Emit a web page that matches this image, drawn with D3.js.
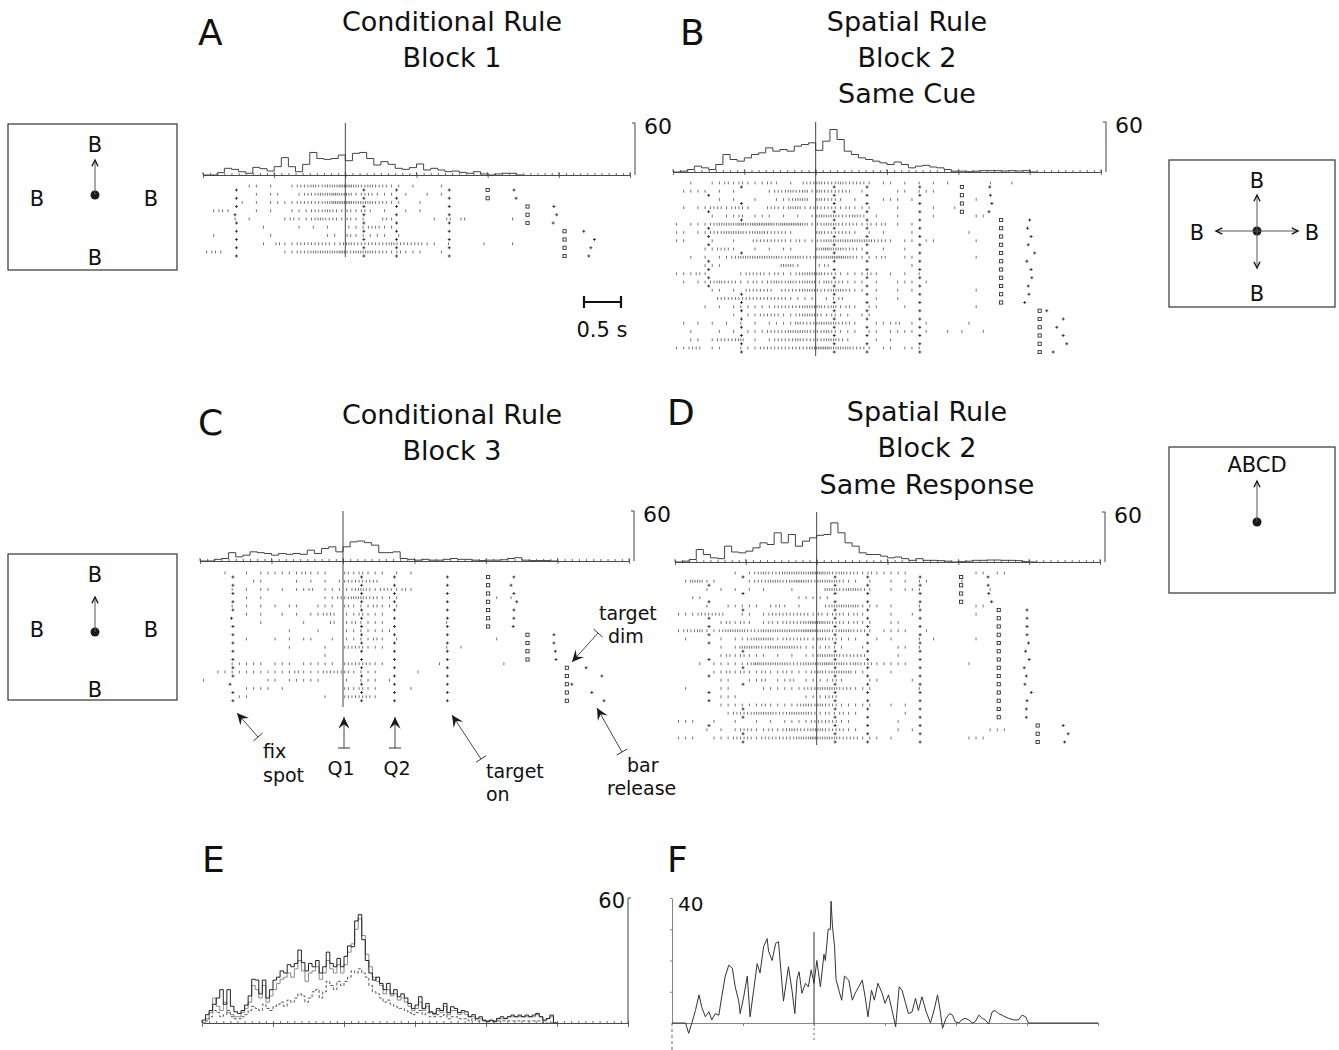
<!DOCTYPE html>
<meta charset="utf-8">
<style>
body{margin:0;background:#fff}
text{font-family:"DejaVu Sans","Liberation Sans",Arial,sans-serif;fill:#111}
</style>
<svg width="1339" height="1050"></svg>
<script src="https://cdn.jsdelivr.net/npm/d3@7"></script>
<script>
/*global d3*/
// time axis of every panel: -2 s .. +4 s around the first cue (Q1)
var T0 = -2, T1 = 4;

// peri-event histograms, spikes/s in 0.1 s bins starting at -2 s
var histA = [0,0,2.7,7.7,6.5,3.8,2,8.8,7.3,4.6, 9.6,20,9.6,3.8,12.3,26,19,18,19,23,
  16.5,25,26,19,11.5,15.4,12.3,7.7,6.5,8.5, 12.7,5.8,7.7,5.8,3.8,4.6,3,2,3.8,1.2, 0,1.2,2,2,0];
var histB = [0,1,3,7,5,3,9,21,15,13, 17,21,23,29,25,27,25,31,33,35,
  26,37,51,39,25,21,17,15,13,11, 9,12,9,5,7,8,6,5,3,1, 1,0.4,1,1.6,1.6,1.6,1.2,1.6,1.2,1.6, 0];
var histC = [0,0,2,3,10,5,7,11,10,9, 7,9,8,9,8,13,9,15,17,11,
  17,23,24,22,19,10,10,11,3,2, 1,2,1,1,2,3,2,2,1,0.5, 1,1,1.5,3,4,1,0.5,0.5,0.5,0];
var histD = [0,1,3,15,9,5,4,19,12,11, 13,17,23,21,35,23,33,19,25,29,
  32,33,47,35,23,19,11,9,9,7, 5,6,4,2,4,2,2,1.6,1,0, 0.4,1,2,2,2.4,2.4,2,2,1.6,0.4, 0];

// rasters: one string per trial, spike count per 0.1 s bin from -2 s
var rasterA = [
"0000001101 0012232334 4323221101 0001000000",
"0000000101 1001223343 3122111010 0101000000",
"0000010101 1112222344 4333221100 1000000000",
"0121000101 0011122321 2121010010 1000000000",
"0000101000 0121123221 2110021000 0010202000 0001",
"0000000010 0001010100 1112211000 0000000000",
"0100000001 0000000110 2111110100 0000000000",
"0000000010 2112222212 3222223222 2110100001 0001",
"1210000000 0112233334 2333221211 1001000000"
];
var rasterB = [
"0010011212 1112101022 3223222101 1010101010 00001001",
"0111101010 0001223231 3222201000 0110111000",
"0000001010 0100112330 3221010001 1101000000 001",
"0101122122 1002213312 2221211100 0100001001",
"0000010112 0111010101 3332232010 0100001000 0011",
"1011123334 3444344431 2332221212 0101000000",
"1101122333 2332221000 3222210101 0001000000 01",
"1100010010 0222221211 2333333322 1011011000 001",
"0000112210 0101011000 3433221001 0010000000",
"0010101123 3333323322 3344321112 0011000000 001",
"0000111000 0000033100 1200000000 0001000000",
"1112100001 2221211233 3221111210 1010100000",
"0101123221 1212323233 1322111010 0111010000",
"0000011010 2222022233 2233211010 0101000000 0010",
"0000002222 2222221111 0112000010 0100000000",
"0000101011 1111222233 3231210110 0010000000 0010",
"0000000010 1122211233 2121101100 0000000000",
"0101010101 0101111322 3332210011 1201010000 01",
"0010001010 1112223332 2321110110 1111010010 1001",
"0011012223 0101222322 2332100010 1000000000",
"1122011001 1122222223 4433322101 1011100000"
];
var rasterC = [
"0001001011 1111211100 2121110101 0000000000",
"0000000110 0001010101 2222200000 0000000000",
"0000101011 0101120111 1232122121 0000000000",
"0000001010 0000000112 2332211100 0000000000 0101",
"0000101010 1011001110 2111211100 0000000000",
"0000001010 0101011220 1121110000 0000000000",
"0000000010 0000100020 1211110000 0000100000",
"0000000000 0010001000 1111111000 0000000000",
"0000001000 1010110010 1111210100 0000000000 01",
"0000000000 0010000100 2221110000 0000101000",
"0000000000 0000000100 0000000000 0000000000",
"0000111110 1110111110 2222110000 0001000000 001",
"0011111111 1112111222 2111100000 1000000000",
"1000000001 1011111000 1011101000 0000000000",
"0000001111 0100000000 2121100001 0000000000",
"0000011000 0000000100 2222100000 0000000000"
];
var rasterD = [
"0000000010 1232233334 4323221211 1110000000 0011011",
"0133110000 1223323432 3332110100 1010110000 1",
"0000101010 1010001000 0332332100 1011100000 00001",
"0011000000 0000000111 1100000000 0000000000",
"0000100111 1101210100 0233331110 1000100000 0011",
"1112222001 1012222221 2122121000 1001000000 001",
"0000001212 1012122234 4322121100 1100000000",
"1223112333 2233333344 3323322101 1110010000",
"0100001011 2333122221 3221110010 1000101000 001",
"0000001013 3323333211 1211001000 0110100000",
"0000001212 1110101011 3332222000 0100000000",
"0001011111 2433332233 3433232211 1110000000 01",
"0000011212 1121121112 3233311000 1000000000",
"0000001100 1120112011 1121000110 0001000000",
"0100001100 0011111122 3332211100 0000100000",
"0000001110 0000000011 1220000000 0000000000",
"0000001111 1121111232 3221111100 1010000000",
"0000000122 2333223332 1212110000 0010000000",
"1110010010 0101011112 2221100000 0100000000",
"0000101012 2112123223 3222110000 0101000000 0000111",
"1110011122 2122222334 3332221110 1000000000 0111"
];

// behavioural events per trial (s): fixation spot, target dim, bar release
var fixA = [-1.53,-1.53,-1.53,-1.55,-1.53,-1.53,-1.53,-1.53,-1.53];
var dimA = [2.0,2.0,2.56,2.56,2.56,3.08,3.08,3.08,3.08];
var relA = [2.37,2.4,2.93,2.97,2.92,3.35,3.5,3.45,3.42];
var fixB = [-1.04,-1.5,-1.04,-1.5,-1.04,-1.5,-1.5,-1.5,-1.04,-1.5,-1.5,-1.5,-1.5,-1.04,-1.04,-1.04,-1.04,-1.04,-1.04,-1.04,-1.04];
var dimB = [2.05,2.05,2.05,2.05, 2.6,2.6,2.6,2.6,2.6,2.6,2.6,2.6,2.6,2.6,2.6, 3.14,3.14,3.14,3.14,3.14,3.14];
var relB = [2.44,2.45,2.47,2.43, 3.0,2.97,3.02,2.98,3.07,2.96,3.02,3.03,2.98,2.99,2.93, 3.24,3.47,3.38,3.47,3.52,3.33];
var fixC = [-1.54,-1.54,-1.54,-1.54,-1.54,-1.56,-1.54,-1.54,-1.54,-1.54,-1.54,-1.54,-1.54,-1.58,-1.54,-1.54];
var dimC = [2.03,2.03,2.03,2.03,2.03,2.03,2.03, 2.58,2.58,2.58,2.58, 3.13,3.13,3.13,3.13,3.13];
var relC = [2.39,2.35,2.39,2.43,2.39,2.39,2.38, 2.95,2.95,2.97,2.98, 3.4,3.62,3.2,3.48,3.65];
var fixD = [-1.04,-1.52,-1.04,-1.52,-1.04,-1.52,-1.52,-1.52,-1.52,-1.04,-1.52,-1.04,-1.52,-1.04,-1.52,-1.52,-1.04,-1.04,-1.52,-1.04,-1.04];
var dimD = [2.04,2.04,2.04,2.04, 2.57,2.57,2.57,2.57,2.57,2.57,2.57,2.57,2.57,2.57,2.57,2.57,2.57,2.57, 3.12,3.12,3.12];
var relD = [2.42,2.42,2.43,2.47, 2.97,2.97,2.97,2.97,2.99,2.95,3.0,2.93,2.96,2.94,3.03,2.97,2.96,2.96, 3.48,3.55,3.5];
// fixed task events: Q1, Q2, target on
var cueTimes = [0.26, 0.72, 1.46];

// panel E: population histograms, 0.05 s bins from -2 s
var popSolid = [1.4,4,6,9,12,16,9,16,8,5.4, 4.6,6,8.6,13,21,20.6,14,20.6,12,16,
  20.6,22,25,24,28,27,28.6,35,29,25, 28.6,27,30,24,27,34,28.6,27,31,27,
  32,37,36.6,49,52,40,30,24,20.6,22, 19,16,19,14,16,12.6,14,12,9.4,7,
  8.6,12.6,7,9.4,5.4,4.6,7,6,9.4,5, 7.8,7,5,6,5.4,3,4,2.2,3,1.4,
  0.6,1.4,0.6,2.2,3,2.2,3,3.8,3,3.8, 3,3.8,3,3.8,4.6,3,1.4,2.2,3.8,0];
var popGray = [0,2,5,12,8,6,10,5,4,3, 3,5,7,10,18,16,12,18,10,13,
  16,19,21,22,24,22,26,30,25,20, 24,25,27,21,24,30,26,24,28,24,
  28,34,38,45,50,42,33,27,22,20, 18,14,16,13,14,11,12,10,8,6,
  7,10,6,8,5,4,6,5,8,4, 6,6,4,5,4,3,3,2,2,1,
  1,1,1,2,2,2,3,3,3,3, 3,3,3,3,4,3,1,2,3,0];
var popDashed = [0,1,3,6,5,3,4,6,3,2, 2,3,4,6,8,7,6,9,7,6,
  8,9,10,8,11,10,12,14,13,10, 12,15,16,12,15,20,18,16,20,18,
  20,22,25,24,26,24,22,18,15,14, 12,10,11,9,8,7,7,6,5,4,
  5,6,4,5,3,3,4,3,4,2, 3,3,2,2,2,1,2,1,1,1,
  1,1,1,1,1,1,1,1,1,1, 1,1,1,1,1,1,0,0,0,0];

// panel F: difference spike-density trace
var diffTime = [-2,-1.81,-1.765,-1.72,-1.67,-1.62,-1.58,-1.53,-1.48,-1.44,-1.39,-1.34,-1.3,-1.25,-1.2,-1.15,-1.11,-1.06,-1.04,-0.99,
  -0.94,-0.9,-0.85,-0.8,-0.76,-0.71,-0.66,-0.64,-0.59,-0.54,-0.5,-0.43,-0.36,-0.31,-0.27,-0.24,-0.21,-0.17,-0.12,-0.08,
  -0.04,0,0.04,0.09,0.14,0.16,0.2,0.23,0.24,0.26,0.29,0.31,0.35,0.39,0.43,0.49,0.54,0.58,0.63,0.68,
  0.72,0.76,0.81,0.85,0.9,0.96,1.0,1.05,1.1,1.15,1.2,1.24,1.29,1.33,1.38,1.43,1.47,1.52,1.58,1.64,
  1.69,1.74,1.78,1.81,1.86,1.91,1.95,1.99,2.04,2.08,2.13,2.18,2.23,2.27,2.32,2.37,2.41,2.46,2.51,2.55,
  2.6,2.65,2.69,2.74,2.81,2.88,2.93,2.98,3.02,4];
var diffRate = [0,0,-3.3,0,4,9,5,2,3.6,1,3,2.5,8.4,15,18.5,17.5,11.6,7,3,8.4,
  15,2,10.5,19,16,24.4,27,23,20,25.5,26,7,18,10.5,3,14,16.4,9.5,12.7,11.6,
  17,12.7,20,11.6,22,20,30,30,39,31,24.4,14,10.5,7.3,15,13.7,7.3,9.5,11.6,13.7,
  8.4,2,10.5,7.3,12.7,9.5,6.3,9,4,-1.2,11.6,10.5,6.3,3,3.5,7.9,4,8.4,3.6,0,
  4,9,3.5,-1.7,1.5,3,2.5,0.4,0,1,1.5,1,0,0.4,2.5,1.5,1,-0.3,3.6,4,
  3,2.5,2,1.5,1,1,2.5,2,0,0];

var svg = d3.select("svg");
var ink = "#1a1a1a";

function txt(x, y, s, size, anchor) {
  svg.append("text").attr("x", x).attr("y", y).attr("font-size", size)
    .attr("text-anchor", anchor || "start").text(s);
}

function parseRow(s) { return s.replace(/ /g, "").split("").map(Number); }

// step outline of a binned histogram
function histPath(vals, w, x, y) {
  var pts = [[T0, 0]];
  vals.forEach(function(v, i) { pts.push([T0 + i * w, v]); });
  var tEnd = T0 + vals.length * w;
  pts.push([tEnd, vals[vals.length - 1]]);
  pts.push([tEnd, 0]);
  return d3.line().x(function(d) { return x(d[0]); }).y(function(d) { return y(d[1]); })
    .curve(d3.curveStepAfter)(pts);
}

function timeAxis(g, x, base, major, minor) {
  g.append("g").attr("transform", "translate(0," + base + ")")
    .call(d3.axisBottom(x).tickValues(d3.range(-2, 4.01, 1)).tickSize(major).tickSizeOuter(0).tickFormat(""));
  g.append("g").attr("transform", "translate(0," + base + ")")
    .call(d3.axisTop(x).tickValues(d3.range(-2, 4.01, 0.1)).tickSize(minor).tickSizeOuter(0).tickFormat(""));
  g.selectAll(".domain,.tick line").attr("stroke", "#444").attr("stroke-width", 0.8);
}

function plus(g, cx, cy) {
  g.append("path").attr("d", "M" + (cx - 1.5) + "," + cy + "h3M" + cx + "," + (cy - 1.5) + "v3")
    .attr("stroke", ink).attr("stroke-width", 0.8);
}

function drawPanel(p) {
  var x = d3.scaleLinear().domain([T0, T1]).range([p.x0, p.x1]);
  var y = d3.scaleLinear().domain([0, 60]).range([p.base, p.top]);
  var g = svg.append("g");
  timeAxis(g, x, p.base, 3, 2);
  d3.range(-2, 4.01, 1).forEach(function(t) {
    g.append("line").attr("x1", x(t)).attr("x2", x(t)).attr("y1", p.base - 3).attr("y2", p.base)
      .attr("stroke", "#444").attr("stroke-width", 0.8);
  });
  g.append("path").attr("d", histPath(p.hist, 0.1, x, y))
    .attr("fill", "none").attr("stroke", "#444").attr("stroke-width", 1);
  // scale bar 60 sp/s
  var sx = p.x1 + 5;
  g.append("path").attr("d", "M" + (sx - 3) + "," + p.top + "H" + sx + "V" + p.base)
    .attr("fill", "none").attr("stroke", "#444").attr("stroke-width", 1);
  txt(sx + 9, p.top + 11, "60", 22);
  // alignment line
  g.append("line").attr("x1", x(0)).attr("x2", x(0)).attr("y1", p.top).attr("y2", p.lineBot)
    .attr("stroke", "#333").attr("stroke-width", 0.9);
  // raster
  p.raster.forEach(function(s, k) {
    var ry = p.rowY + k * 8.25;
    parseRow(s).forEach(function(c, i) {
      for (var j = 0; j < c; j++) {
        var t = T0 + i * 0.1 + 0.1 * (j + 0.5) / c;
        g.append("line").attr("x1", x(t)).attr("x2", x(t)).attr("y1", ry - 1.4).attr("y2", ry + 1.4)
          .attr("stroke", "#333").attr("stroke-width", 0.7);
      }
    });
    var my = ry + 4;
    plus(g, x(p.fix[k]), my);
    cueTimes.forEach(function(t) { plus(g, x(t), my); });
    g.append("rect").attr("x", x(p.dim[k]) - 1.6).attr("y", my - 1.6).attr("width", 3.2).attr("height", 3.2)
      .attr("fill", "none").attr("stroke", ink).attr("stroke-width", 0.8);
    plus(g, x(p.rel[k]), my);
  });
}

drawPanel({x0: 203, x1: 630, base: 175, top: 123, rowY: 186, lineBot: 257, hist: histA, raster: rasterA, fix: fixA, dim: dimA, rel: relA});
drawPanel({x0: 673, x1: 1101, base: 172, top: 122, rowY: 183, lineBot: 356, hist: histB, raster: rasterB, fix: fixB, dim: dimB, rel: relB});
drawPanel({x0: 200, x1: 629, base: 561, top: 511, rowY: 573, lineBot: 707, hist: histC, raster: rasterC, fix: fixC, dim: dimC, rel: relC});
drawPanel({x0: 675, x1: 1100, base: 562, top: 512, rowY: 573, lineBot: 745, hist: histD, raster: rasterD, fix: fixD, dim: dimD, rel: relD});

// panel letters and titles
txt(198, 45, "A", 36); txt(680, 45, "B", 36); txt(198, 435, "C", 36);
txt(667, 425, "D", 36); txt(202, 872, "E", 36); txt(667, 872, "F", 36);
txt(452, 31, "Conditional Rule", 27, "middle"); txt(452, 67, "Block 1", 27, "middle");
txt(907, 31, "Spatial Rule", 27, "middle"); txt(907, 67, "Block 2", 27, "middle"); txt(907, 103, "Same Cue", 27, "middle");
txt(452, 424, "Conditional Rule", 27, "middle"); txt(452, 460, "Block 3", 27, "middle");
txt(927, 421, "Spatial Rule", 27, "middle"); txt(927, 457, "Block 2", 27, "middle"); txt(927, 494, "Same Response", 27, "middle");

// time scale bar
svg.append("path").attr("d", "M584,302H621M584,296V308M621,296V308").attr("stroke", "#111").attr("stroke-width", 2.2);
txt(602, 337, "0.5 s", 21, "middle");

// arrows
function chevron(x1, y1, x2, y2, len, filled) {
  var a = Math.atan2(y2 - y1, x2 - x1), w = 0.45;
  var p1 = [x2 - len * Math.cos(a - w), y2 - len * Math.sin(a - w)];
  var p2 = [x2 - len * Math.cos(a + w), y2 - len * Math.sin(a + w)];
  var n = [x2 - len * 0.55 * Math.cos(a), y2 - len * 0.55 * Math.sin(a)];
  if (filled) {
    svg.append("path").attr("d", "M" + p1 + "L" + x2 + "," + y2 + "L" + p2 + "L" + n + "Z").attr("fill", ink);
  } else {
    svg.append("path").attr("d", "M" + p1 + "L" + x2 + "," + y2 + "L" + p2)
      .attr("fill", "none").attr("stroke", ink).attr("stroke-width", 1.4);
  }
}
function callout(tx, ty, hx, hy) {
  svg.append("line").attr("x1", tx).attr("y1", ty).attr("x2", hx).attr("y2", hy).attr("stroke", "#333").attr("stroke-width", 0.9);
  var a = Math.atan2(hy - ty, hx - tx) + Math.PI / 2, r = 6;
  svg.append("line").attr("x1", tx - r * Math.cos(a)).attr("y1", ty - r * Math.sin(a))
    .attr("x2", tx + r * Math.cos(a)).attr("y2", ty + r * Math.sin(a)).attr("stroke", "#333").attr("stroke-width", 1);
  chevron(tx, ty, hx, hy, 13, true);
}
callout(258, 737, 237, 713); txt(263, 758, "fix", 19); txt(263, 782, "spot", 19);
callout(344, 748, 344, 717); txt(341, 775, "Q1", 19, "middle");
callout(395, 748, 395, 717); txt(397, 775, "Q2", 19, "middle");
callout(481, 759, 452, 715); txt(486, 778, "target", 19); txt(486, 801, "on", 19);
callout(598, 633, 572, 662); txt(599, 620, "target", 19); txt(608, 643, "dim", 19);
callout(622, 752, 597, 708); txt(627, 772, "bar", 19); txt(607, 795, "release", 19);

// cue-response boxes
function box(x, y, w, h) {
  svg.append("rect").attr("x", x).attr("y", y).attr("width", w).attr("height", h)
    .attr("fill", "none").attr("stroke", "#333").attr("stroke-width", 1.2);
}
function dot(cx, cy) { svg.append("circle").attr("cx", cx).attr("cy", cy).attr("r", 4.5).attr("fill", ink); }
function arrowTo(x1, y1, x2, y2) {
  svg.append("line").attr("x1", x1).attr("y1", y1).attr("x2", x2).attr("y2", y2).attr("stroke", "#555").attr("stroke-width", 1);
  chevron(x1, y1, x2, y2, 7, false);
}
box(8, 124, 169, 146); dot(95, 195); arrowTo(95, 195, 95, 160);
txt(95, 152, "B", 21, "middle"); txt(37, 206, "B", 21, "middle"); txt(151, 206, "B", 21, "middle"); txt(95, 265, "B", 21, "middle");

box(1169, 160, 166, 147); dot(1257, 231);
arrowTo(1257, 231, 1257, 195); arrowTo(1257, 231, 1257, 268); arrowTo(1257, 231, 1216, 231); arrowTo(1257, 231, 1298, 231);
txt(1257, 188, "B", 21, "middle"); txt(1197, 240, "B", 21, "middle"); txt(1312, 240, "B", 21, "middle"); txt(1257, 301, "B", 21, "middle");

box(1169, 447, 166, 146); dot(1257, 522); arrowTo(1257, 522, 1257, 481);
txt(1257, 472, "ABCD", 21, "middle");

box(8, 554, 169, 146); dot(95, 632); arrowTo(95, 632, 95, 597);
txt(95, 582, "B", 21, "middle"); txt(37, 637, "B", 21, "middle"); txt(151, 637, "B", 21, "middle"); txt(95, 697, "B", 21, "middle");

// panel E: overlaid population histograms
(function() {
  var x = d3.scaleLinear().domain([T0, T1]).range([202, 628]);
  var y = d3.scaleLinear().domain([0, 60]).range([1023, 898]);
  var g = svg.append("g");
  timeAxis(g, x, 1023, 4, 2);
  [[popDashed, "#555", "3,2"], [popGray, "#8a8a8a", null], [popSolid, "#222", null]].forEach(function(s) {
    g.append("path").attr("d", histPath(s[0], 0.05, x, y)).attr("fill", "none")
      .attr("stroke", s[1]).attr("stroke-width", 1).attr("stroke-dasharray", s[2]);
  });
  g.append("path").attr("d", "M628,1023V898h3").attr("fill", "none").attr("stroke", "#444").attr("stroke-width", 1);
  txt(625, 908, "60", 21, "end");
})();

// panel F: difference trace
(function() {
  var x = d3.scaleLinear().domain([T0, T1]).range([672, 1098]);
  var y = d3.scaleLinear().domain([0, 40]).range([1023, 898]);
  var g = svg.append("g");
  g.append("g").attr("transform", "translate(0,1023)")
    .call(d3.axisBottom(x).tickValues(d3.range(-1, 4.01, 1)).tickSize(3).tickSizeOuter(0).tickFormat(""));
  g.append("g").attr("transform", "translate(672,0)")
    .call(d3.axisLeft(y).tickValues([10, 20, 30, 40]).tickSize(2).tickSizeOuter(0).tickFormat(""));
  g.selectAll(".domain,.tick line").attr("stroke", "#777").attr("stroke-width", 0.9);
  g.append("line").attr("x1", 672).attr("x2", 672).attr("y1", 1023).attr("y2", 1050)
    .attr("stroke", "#666").attr("stroke-dasharray", "3,3");
  g.append("line").attr("x1", x(0)).attr("x2", x(0)).attr("y1", 932).attr("y2", 1023).attr("stroke", "#333");
  g.append("line").attr("x1", x(0)).attr("x2", x(0)).attr("y1", 1023).attr("y2", 1040)
    .attr("stroke", "#666").attr("stroke-dasharray", "2,3");
  g.append("path").datum(diffTime.map(function(t, i) { return [t, diffRate[i]]; }))
    .attr("d", d3.line().x(function(d) { return x(d[0]); }).y(function(d) { return y(d[1]); }))
    .attr("fill", "none").attr("stroke", "#333").attr("stroke-width", 1);
  txt(678, 911, "40", 20);
})();
</script>
